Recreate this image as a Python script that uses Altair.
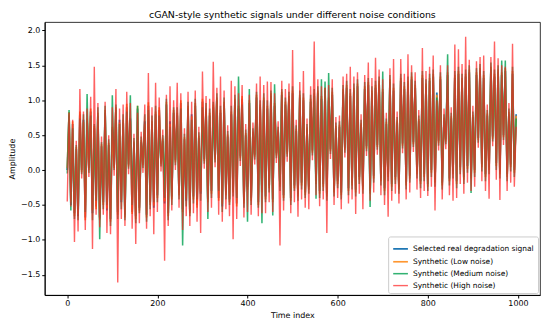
import altair as alt
import pandas as pd

time_index = list(range(0, 1000, 4))

real = [
    0.00, 0.78, -0.50, 0.66, -0.62, 0.30, -0.66, 0.80, 0.00, 0.72,
    -0.68, 0.70, 0.03, 0.84, -0.62, 0.60, -0.52, 0.78, -0.68, 0.34,
    -0.46, 0.82, -0.58, 0.36, -0.70, 0.58, 0.06, 0.86, -0.60, 0.72,
    -0.46, 0.68, -0.64, 0.90, 0.08, 0.74, -0.60, 0.38, -0.66, 0.88,
    -0.54, 0.40, 0.10, 0.70, -0.64, 0.92, -0.46, 0.66, -0.54, 0.80,
    -0.36, 0.86, 0.12, 0.42, -0.48, 0.94, -0.62, 0.70, -0.38, 0.82,
    0.14, 0.78, -0.32, 0.96, -0.56, 0.44, -0.44, 0.88, -0.58, 0.80,
    -0.38, 0.92, -0.50, 0.46, -0.34, 0.98, 0.16, 0.84, -0.42, 0.78,
    -0.30, 0.90, 0.18, 1.00, -0.40, 0.82, -0.52, 0.94, -0.32, 0.48,
    -0.42, 0.80, -0.28, 0.98, -0.48, 0.88, 0.20, 1.02, -0.44, 0.50,
    -0.24, 0.96, -0.40, 0.52, 0.22, 1.04, -0.46, 0.90, -0.28, 1.00,
    -0.38, 0.88, -0.22, 1.06, -0.42, 0.92, 0.24, 0.54, -0.20, 1.08,
    -0.36, 0.94, 0.26, 1.02, -0.40, 1.10, -0.22, 0.56, -0.34, 1.04,
    -0.18, 1.00, -0.32, 0.58, -0.24, 0.98, 0.28, 1.06, -0.16, 1.10,
    -0.30, 1.02, -0.20, 1.14, -0.34, 1.00, 0.30, 1.08, -0.28, 0.60,
    -0.16, 0.62, -0.32, 1.12, 0.32, 1.18, -0.26, 1.06, -0.18, 1.14,
    -0.28, 1.20, -0.10, 0.64, -0.24, 1.16, 0.34, 1.22, -0.30, 1.10,
    -0.08, 1.18, 0.36, 1.24, -0.12, 1.12, -0.26, 0.66, -0.06, 1.26,
    -0.20, 1.14, -0.10, 0.68, -0.24, 1.28, 0.38, 1.16, -0.18, 1.24,
    -0.08, 1.30, 0.40, 1.18, -0.02, 0.70, -0.16, 1.32, -0.06, 1.20,
    -0.20, 1.28, 0.00, 1.34, -0.14, 1.11, 0.42, 1.30, -0.18, 0.72,
    0.44, 1.36, -0.12, 0.74, -0.02, 1.32, -0.16, 1.38, 0.04, 1.28,
    -0.10, 1.34, 0.06, 1.40, -0.08, 0.76, 0.00, 1.36, 0.46, 1.42,
    0.08, 1.32, -0.06, 0.78, 0.04, 1.44, 0.48, 1.34, 0.10, 1.40,
    -0.02, 1.36, 0.50, 1.42, -0.06, 0.80, 0.08, 1.38, 0.00, 0.80,
]

low = [
    0.03, 0.83, -0.46, 0.70, -0.66, 0.33, -0.63, 0.84, -0.03, 0.69,
    -0.72, 0.74, 0.00, 0.88, -0.58, 0.63, -0.56, 0.82, -0.71, 0.37,
    -0.50, 0.86, -0.55, 0.39, -0.74, 0.62, 0.03, 0.90, -0.64, 0.68,
    -0.43, 0.72, -0.68, 0.95, 0.05, 0.70, -0.63, 0.41, -0.70, 0.92,
    -0.58, 0.43, 0.07, 0.66, -0.68, 0.97, -0.50, 0.70, -0.51, 0.84,
    -0.40, 0.90, 0.09, 0.45, -0.45, 0.98, -0.66, 0.66, -0.42, 0.86,
    0.11, 0.82, -0.36, 1.00, -0.60, 0.47, -0.41, 0.92, -0.62, 0.77,
    -0.42, 0.96, -0.54, 0.49, -0.31, 1.02, 0.13, 0.88, -0.46, 0.82,
    -0.34, 0.94, 0.15, 1.04, -0.44, 0.86, -0.49, 0.98, -0.36, 0.51,
    -0.46, 0.84, -0.32, 1.02, -0.52, 0.92, 0.17, 1.06, -0.48, 0.53,
    -0.28, 1.00, -0.44, 0.55, 0.19, 1.08, -0.50, 0.94, -0.32, 1.04,
    -0.42, 0.92, -0.26, 1.10, -0.46, 0.96, 0.21, 0.57, -0.24, 1.12,
    -0.40, 0.98, 0.23, 1.06, -0.44, 1.14, -0.26, 0.59, -0.38, 1.08,
    -0.22, 1.04, -0.36, 0.61, -0.28, 1.02, 0.25, 1.10, -0.20, 1.14,
    -0.34, 1.06, -0.24, 1.18, -0.38, 1.04, 0.27, 1.12, -0.32, 0.63,
    -0.20, 0.65, -0.36, 1.16, 0.29, 1.22, -0.30, 1.10, -0.22, 1.18,
    -0.32, 1.24, -0.14, 0.67, -0.28, 1.20, 0.31, 1.26, -0.34, 1.14,
    -0.12, 1.22, 0.33, 1.28, -0.16, 1.16, -0.30, 0.69, -0.10, 1.30,
    -0.24, 1.18, -0.14, 0.71, -0.28, 1.32, 0.35, 1.20, -0.22, 1.28,
    -0.12, 1.34, 0.37, 1.22, -0.06, 0.73, -0.20, 1.36, -0.10, 1.24,
    -0.24, 1.32, -0.04, 1.38, -0.18, 1.08, 0.39, 1.34, -0.22, 0.75,
    0.41, 1.40, -0.16, 0.77, -0.06, 1.36, -0.20, 1.42, 0.00, 1.32,
    -0.14, 1.38, 0.02, 1.44, -0.12, 0.79, -0.04, 1.40, 0.43, 1.46,
    0.04, 1.36, -0.10, 0.81, 0.00, 1.48, 0.45, 1.38, 0.06, 1.44,
    -0.06, 1.40, 0.47, 1.46, -0.10, 0.83, 0.04, 1.42, -0.04, 0.78,
]

medium = [
    -0.05, 0.86, -0.58, 0.60, -0.70, 0.36, -0.72, 0.74, -0.06, 0.80,
    -0.60, 1.09, -0.04, 0.78, -0.72, 0.66, -0.44, 0.90, -0.99, 0.40,
    -0.56, 0.92, -0.50, 0.44, -0.80, 1.07, 0.00, 0.94, -0.70, 0.66,
    -0.56, 0.80, -0.72, 0.84, 0.02, 1.07, -0.50, 0.46, -0.76, 0.92,
    -0.62, 0.48, 0.03, 0.80, -0.74, 0.86, -0.56, 0.78, -0.46, 0.92,
    -0.46, 0.78, 0.05, 0.50, -0.40, 1.02, -0.72, 0.62, -0.50, 0.90,
    0.07, 0.90, -0.42, 0.88, -1.08, 0.52, -0.52, 0.98, -0.66, 0.72,
    -0.48, 1.02, -0.42, 0.54, -0.44, 0.90, 0.09, 0.96, -0.70, 0.88,
    -0.40, 0.98, 0.11, 1.10, -0.30, 0.92, -0.60, 1.04, -0.42, 0.56,
    -0.50, 0.92, -0.38, 1.08, -0.40, 1.34, 0.13, 0.94, -0.54, 0.58,
    -0.74, 1.16, -0.50, 0.60, 0.15, 1.12, -0.54, 1.00, -0.76, 1.10,
    -0.46, 1.00, -0.32, 1.14, -0.65, 1.23, 0.17, 0.62, -0.30, 1.16,
    -0.44, 1.04, 0.19, 1.12, -0.50, 1.20, -0.30, 0.64, -0.44, 1.14,
    -0.28, 1.10, -0.40, 0.66, -0.34, 1.08, 0.21, 1.16, -0.41, 1.20,
    -0.40, 1.30, -0.30, 1.27, -0.44, 1.39, 0.23, 1.18, -0.38, 0.68,
    -0.26, 0.70, -0.42, 1.22, 0.25, 1.28, -0.36, 1.16, -0.28, 1.24,
    -0.38, 1.30, -0.20, 0.72, -0.34, 1.26, 0.27, 1.32, -0.53, 1.20,
    -0.18, 1.28, 0.29, 1.34, -0.22, 1.41, -0.36, 0.74, -0.16, 1.36,
    -0.30, 1.24, -0.20, 0.76, -0.34, 1.38, 0.31, 1.26, -0.28, 1.34,
    -0.18, 1.40, 0.33, 1.28, -0.12, 0.78, -0.26, 1.42, -0.16, 1.30,
    -0.30, 1.38, -0.10, 1.44, -0.24, 1.04, 0.35, 1.40, -0.28, 0.80,
    0.37, 1.66, -0.22, 0.82, -0.12, 1.42, -0.26, 1.48, -0.06, 1.38,
    -0.20, 1.44, -0.04, 1.50, -0.33, 0.84, -0.10, 1.46, 0.39, 1.52,
    -0.02, 1.42, -0.16, 0.86, -0.06, 1.54, 0.41, 1.44, 0.00, 1.50,
    -0.12, 1.57, 0.43, 1.57, -0.16, 0.88, -0.02, 1.48, -0.10, 0.74,
]

high = [
    -0.45, 0.82, -0.52, 0.72, -1.03, 0.42, -0.88, 1.16, -0.12, 0.84,
    -0.86, 0.88, -0.10, 1.05, -1.13, 1.48, -0.64, 0.96, -0.82, 0.48,
    -0.64, 0.98, -0.90, 0.50, -0.92, 0.90, -0.08, 1.16, -1.61, 0.88,
    -0.70, 0.94, -0.80, 1.12, -0.06, 0.96, -0.84, 0.52, -1.06, 0.82,
    -0.76, 0.55, -0.04, 0.94, -0.84, 1.39, -0.66, 0.90, -0.92, 1.25,
    -0.60, 1.04, -0.02, 0.58, -1.30, 1.08, -0.80, 1.20, -0.58, 1.00,
    0.00, 1.25, -0.54, 1.10, -0.86, 0.60, -0.66, 1.12, -0.80, 0.98,
    -0.62, 1.14, -0.74, 0.62, -0.90, 1.41, 0.02, 1.06, -0.60, 1.02,
    -0.54, 1.55, 0.04, 1.18, -0.64, 1.34, -0.74, 1.14, -0.56, 0.64,
    -0.66, 1.28, -0.99, 1.20, -0.70, 1.10, 0.06, 1.22, -0.68, 0.66,
    -0.60, 1.08, -0.64, 0.68, 0.08, 1.24, -0.66, 1.34, -0.62, 1.22,
    -0.62, 1.27, -0.46, 1.26, -0.60, 1.10, 0.10, 0.70, -1.08, 1.28,
    -0.58, 1.16, 0.12, 1.24, -0.62, 1.72, -0.46, 0.72, -0.67, 1.26,
    -0.42, 1.42, -0.54, 0.74, -0.56, 1.20, 0.14, 1.84, -0.36, 1.30,
    -0.52, 1.20, -0.42, 1.18, -0.90, 1.22, 0.16, 1.30, -0.50, 0.76,
    -0.40, 0.78, -0.56, 1.34, 0.18, 1.38, -0.48, 1.48, -0.42, 1.34,
    -0.63, 1.40, -0.34, 0.80, -0.56, 1.36, 0.20, 1.54, -0.44, 1.32,
    -0.32, 1.61, 0.22, 1.44, -0.36, 1.30, -0.50, 0.82, -0.67, 1.46,
    -0.44, 1.59, -0.34, 0.84, -0.48, 1.59, 0.24, 1.38, -0.42, 1.66,
    -0.32, 1.50, 0.26, 1.40, -0.28, 0.86, -0.40, 1.75, -0.30, 1.42,
    -0.37, 1.48, -0.24, 1.64, -0.58, 1.00, 0.28, 1.50, -0.42, 0.88,
    0.30, 1.50, -0.36, 0.90, -0.44, 1.80, -0.40, 1.73, -0.20, 1.52,
    -0.34, 1.91, -0.18, 1.58, -0.30, 0.92, -0.24, 1.56, 0.32, 1.62,
    -0.16, 1.64, -0.30, 0.94, -0.41, 1.62, 0.34, 1.84, -0.14, 1.60,
    -0.43, 1.50, 0.36, 1.48, -0.30, 0.96, -0.18, 1.81, -0.24, 0.62,
]

series_names = [
    "Selected real degradation signal",
    "Synthetic (Low noise)",
    "Synthetic (Medium noise)",
    "Synthetic (High noise)",
]
series_colors = ["#1f77b4", "#ff8c1a", "#00a050", "#ff2020"]
series_opacity = [1.0, 0.7, 0.85, 0.78]
series_width = [1.8, 1.4, 1.4, 1.4]

rows = []
for name, vals in zip(series_names, [real, low, medium, high]):
    for t, v in zip(time_index, vals):
        rows.append({"t": t, "amp": v, "series": name})
df = pd.DataFrame(rows)

FONT = "DejaVu Sans"

x_enc = alt.X(
    "t:Q",
    title="Time index",
    scale=alt.Scale(domain=[-50, 1049], nice=False, zero=False),
    axis=alt.Axis(values=[0, 200, 400, 600, 800, 1000], format="d"),
)
y_enc = alt.Y(
    "amp:Q",
    title="Amplitude",
    scale=alt.Scale(domain=[-1.79, 2.12], nice=False, zero=False),
    axis=alt.Axis(values=[-1.5, -1.0, -0.5, 0.0, 0.5, 1.0, 1.5, 2.0], format=".1f"),
)
color_enc = alt.Color(
    "series:N",
    scale=alt.Scale(domain=series_names, range=series_colors),
    legend=alt.Legend(
        title=None,
        orient="bottom-right",
        offset=2,
        symbolType="stroke",
        symbolSize=220,
        symbolStrokeWidth=1.6,
        labelFontSize=7.5,
        labelFont=FONT,
        fillColor="white",
        strokeColor="#cccccc",
        padding=4,
        cornerRadius=2,
        rowPadding=0,
        labelLimit=300,
    ),
)
op_enc = alt.Opacity(
    "series:N",
    scale=alt.Scale(domain=series_names, range=series_opacity),
    legend=alt.Legend(title=None),
)
sw_enc = alt.StrokeWidth(
    "series:N",
    scale=alt.Scale(domain=series_names, range=series_width),
    legend=alt.Legend(title=None),
)

layers = []
for name in series_names:
    layers.append(
        alt.Chart(df)
        .transform_filter(alt.datum.series == name)
        .mark_line()
        .encode(x=x_enc, y=y_enc, color=color_enc, opacity=op_enc, strokeWidth=sw_enc)
    )

chart = (
    alt.layer(*layers)
    .properties(
        width=538,
        height=313,
        title=alt.TitleParams(
            "cGAN-style synthetic signals under different noise conditions",
            fontSize=9.5,
            font=FONT,
            fontWeight="normal",
            color="black",
            offset=3,
        ),
        autosize=alt.AutoSizeParams(type="fit", contains="padding"),
        padding={"left": 0, "top": 0, "right": 2, "bottom": 0},
    )
    .configure_view(stroke="black", strokeWidth=0.8)
    .configure_axis(
        grid=False,
        labelFont=FONT,
        titleFont=FONT,
        labelFontSize=8,
        titleFontSize=8,
        titleFontWeight="normal",
        labelColor="black",
        titleColor="black",
        domainColor="black",
        tickColor="black",
        tickSize=3,
        labelPadding=2,
        titlePadding=4,
    )
)

chart.save("out.html", embed_options={"renderer": "svg", "actions": False})
